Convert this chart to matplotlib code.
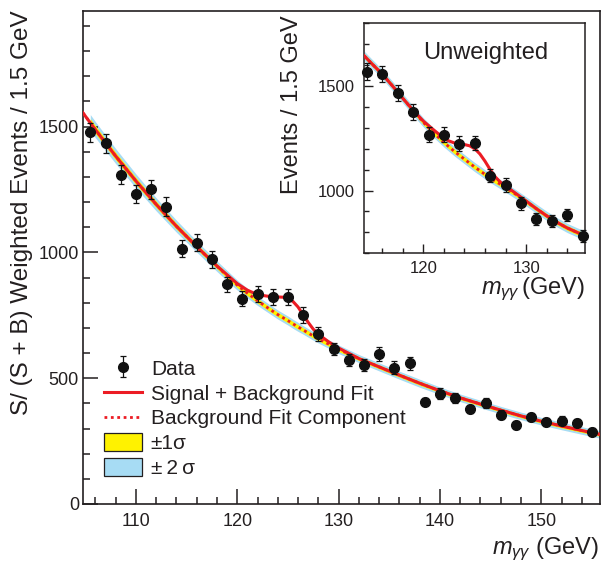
import matplotlib
matplotlib.use("Agg")
import matplotlib.pyplot as plt
import numpy as np
from matplotlib.lines import Line2D
from matplotlib.patches import Patch
from matplotlib.ticker import MultipleLocator

plt.rcParams["font.family"] = ["Liberation Sans", "DejaVu Sans"]
plt.rcParams["mathtext.fontset"] = "custom"
plt.rcParams["mathtext.rm"] = "Liberation Sans"
plt.rcParams["mathtext.it"] = "Liberation Sans:italic"

# ---------------- main panel: S/(S+B) weighted ----------------
mass = [105.5, 107, 108.5, 110, 111.5, 113, 114.5, 116, 117.5, 119, 120.5, 122,
        123.5, 125, 126.5, 128, 129.5, 131, 132.5, 134, 135.5, 137, 138.5, 140,
        141.5, 143, 144.5, 146, 147.5, 149, 150.5, 152, 153.5, 155]
weighted = [1478, 1434, 1309, 1233, 1251, 1182, 1015, 1039, 973, 874, 816, 836,
            824, 824, 751, 675, 616, 574, 553, 596, 541, 559, 406, 439,
            421, 377, 400, 354, 314, 345, 325, 331, 323, 288]
weighted_err = [38, 38, 38, 37, 38, 37, 35, 35, 33, 30, 30, 32,
                32, 32, 31, 28, 25, 24, 23, 28, 26, 25, 14, 22,
                21, 15, 20, 18, 14, 17, 16, 17, 16, 14]

fit_x = [104.75, 105.5, 106, 108, 110, 112, 114, 116, 118, 120, 121, 122, 123,
         124, 124.5, 125, 125.5, 126, 126.5, 127, 127.5, 128, 129, 130, 132,
         134, 136, 138, 140, 142, 144, 146, 148, 150, 152, 154, 155.75]
fit_bkg = [1556, 1515, 1488, 1383, 1284, 1191, 1104, 1023, 945, 870, 838, 808, 780,
           753, 741, 729, 716, 704, 692, 680, 668, 657, 636, 615, 578,
           545, 512, 480, 450, 422, 397, 373, 350, 329, 310, 292, 277]
fit_sb = [1556, 1515, 1488, 1383, 1284, 1191, 1104, 1023, 946, 876, 850, 832, 826,
          823, 822, 818, 805, 783, 752, 722, 695, 675, 645, 620, 578,
          545, 512, 480, 450, 422, 397, 373, 350, 329, 310, 292, 277]
band2 = [34, 33, 32, 30, 28, 26, 24, 22, 21, 20, 19, 19, 18,
         18, 18, 18, 18, 18, 17, 17, 17, 17, 17, 17, 16,
         16, 16, 16, 15, 15, 15, 15, 15, 15, 15, 15, 15]
band1 = [17, 16.5, 16, 15, 14, 13, 12, 11, 10.5, 10, 9.5, 9.5, 9,
         9, 9, 9, 9, 9, 8.5, 8.5, 8.5, 8.5, 8.5, 8.5, 8,
         8, 8, 8, 7.5, 7.5, 7.5, 7.5, 7.5, 7.5, 7.5, 7.5, 7.5]

# ---------------- inset: unweighted ----------------
in_mass = [114.5, 116, 117.5, 119, 120.5, 122, 123.5, 125, 126.5, 128, 129.5,
           131, 132.5, 134, 135.5]
in_events = [1569, 1558, 1468, 1375, 1268, 1268, 1225, 1228, 1072, 1027, 939,
             864, 856, 883, 784]
in_err = [40, 39, 38, 37, 36, 36, 35, 35, 33, 32, 31, 29, 29, 30, 28]

in_x = [114.25, 115, 116, 117, 118, 119, 120, 121, 122, 122.5, 123, 123.5, 124,
        124.5, 125, 125.5, 126, 126.5, 127, 127.5, 128, 129, 130, 131, 132,
        133, 134, 135, 135.75]
in_bkg = [1644, 1606, 1557, 1500, 1441, 1382, 1326, 1276, 1230, 1209, 1188, 1169, 1150,
          1131, 1112, 1095, 1077, 1061, 1045, 1030, 1014, 982, 948, 913, 879,
          848, 821, 799, 785]
in_sb = [1644, 1606, 1557, 1500, 1441, 1384, 1332, 1290, 1250, 1237, 1228, 1224, 1220,
         1214, 1200, 1175, 1140, 1100, 1065, 1040, 1022, 986, 950, 913, 879,
         848, 821, 799, 785]
in_band2 = 22
in_band1 = 11

RED = "#ec1c24"
YELLOW = "#fff200"
BLUE = "#a7dcf4"
INK = "#231f20"

fig = plt.figure(figsize=(6.02, 5.65), dpi=100)
ax = fig.add_axes([0.1374, 0.1080, 0.8585, 0.8731])

bx = np.array(fit_x[1:])
bb = np.array(fit_bkg[1:])
ax.fill_between(bx, bb - np.array(band2[1:]), bb + np.array(band2[1:]),
                color=BLUE, lw=0, zorder=1)
ax.fill_between(bx, bb - np.array(band1[1:]), bb + np.array(band1[1:]),
                color=YELLOW, lw=0, zorder=2)
ax.plot(fit_x, fit_bkg, color=RED, lw=2.0, ls=(0, (1, 1.3)), zorder=3)
ax.plot(fit_x, fit_sb, color=RED, lw=2.2, zorder=4)
data = ax.errorbar(mass, weighted, yerr=weighted_err, fmt="o", color="#111111",
                   ms=7, elinewidth=0.9, capsize=2, capthick=0.9, zorder=5,
                   clip_on=False)

ax.set_xlim(104.75, 155.75)
ax.set_ylim(0, 1961)
ax.xaxis.set_major_locator(MultipleLocator(10))
ax.xaxis.set_minor_locator(MultipleLocator(2))
ax.yaxis.set_major_locator(MultipleLocator(500))
ax.yaxis.set_minor_locator(MultipleLocator(100))
ax.tick_params(which="both", direction="in", top=False, right=False,
               width=1.1, color=INK, labelsize=13, labelcolor=INK)
ax.tick_params(which="major", length=10.5)
ax.tick_params(which="minor", length=5.3)
ax.tick_params(axis="x", pad=6.5)
ax.tick_params(axis="y", pad=2.7)
for s in ax.spines.values():
    s.set_linewidth(1.2)
    s.set_color(INK)

ax.set_xlabel(r"$m_{\gamma\gamma}$ (GeV)", loc="right", fontsize=17,
              color=INK, labelpad=4)
ax.set_ylabel("S/ (S + B) Weighted Events / 1.5 GeV", loc="top", fontsize=17.5,
              color=INK, labelpad=4)

handles = [data,
           Line2D([], [], color=RED, lw=2.2),
           Line2D([], [], color=RED, lw=2.0, ls=(0, (1, 1.3))),
           Patch(facecolor=YELLOW, edgecolor=INK, lw=0.9),
           Patch(facecolor=BLUE, edgecolor=INK, lw=0.9)]
labels = ["Data", "Signal + Background Fit", "Background Fit Component",
          "±1σ", "±\u20092\u2009σ"]
ax.legend(handles, labels, loc="upper left", bbox_to_anchor=(0.041, 0.294),
          frameon=False, fontsize=15, handlelength=1.85, handleheight=0.9,
          handletextpad=0.4, labelspacing=0.24, borderpad=0, borderaxespad=0,
          labelcolor=INK)

# inset
ax_in = fig.add_axes([0.6051, 0.5517, 0.3671, 0.4071], zorder=10)
ax_in.set_facecolor("white")
ix = np.array(in_x)
ib = np.array(in_bkg)
ax_in.fill_between(ix, ib - in_band2, ib + in_band2, color=BLUE, lw=0, zorder=1)
ax_in.fill_between(ix, ib - in_band1, ib + in_band1, color=YELLOW, lw=0, zorder=2)
ax_in.plot(in_x, in_bkg, color=RED, lw=2.0, ls=(0, (1, 1.3)), zorder=3)
ax_in.plot(in_x, in_sb, color=RED, lw=2.2, zorder=4)
ax_in.errorbar(in_mass, in_events, yerr=in_err, fmt="o", color="#111111",
               ms=7, elinewidth=0.9, capsize=2, capthick=0.9, zorder=5,
               clip_on=False)
ax_in.set_xlim(114.25, 135.75)
ax_in.set_ylim(700, 1800)
ax_in.xaxis.set_major_locator(MultipleLocator(10))
ax_in.xaxis.set_minor_locator(MultipleLocator(2))
ax_in.yaxis.set_major_locator(MultipleLocator(500))
ax_in.yaxis.set_minor_locator(MultipleLocator(100))
ax_in.tick_params(which="both", direction="in", top=False, right=False,
                  width=1.0, color=INK, labelsize=12, labelcolor=INK)
ax_in.tick_params(which="major", length=6.5)
ax_in.tick_params(which="minor", length=3.5)
ax_in.tick_params(axis="x", pad=5.5)
ax_in.tick_params(axis="y", pad=6.5)
for s in ax_in.spines.values():
    s.set_linewidth(1.1)
    s.set_color(INK)
ax_in.text(0.548, 0.871, "Unweighted", transform=ax_in.transAxes, ha="center",
           va="center", fontsize=17, color=INK)
ax_in.set_xlabel(r"$m_{\gamma\gamma}$$\,$(GeV)", loc="right", fontsize=17,
                 color=INK, labelpad=0)
ax_in.set_ylabel("Events / 1.5 GeV", loc="top", fontsize=17, color=INK)
ax_in.yaxis.set_label_coords(-0.277, 1.036)

fig.savefig("out.png", dpi=100)
